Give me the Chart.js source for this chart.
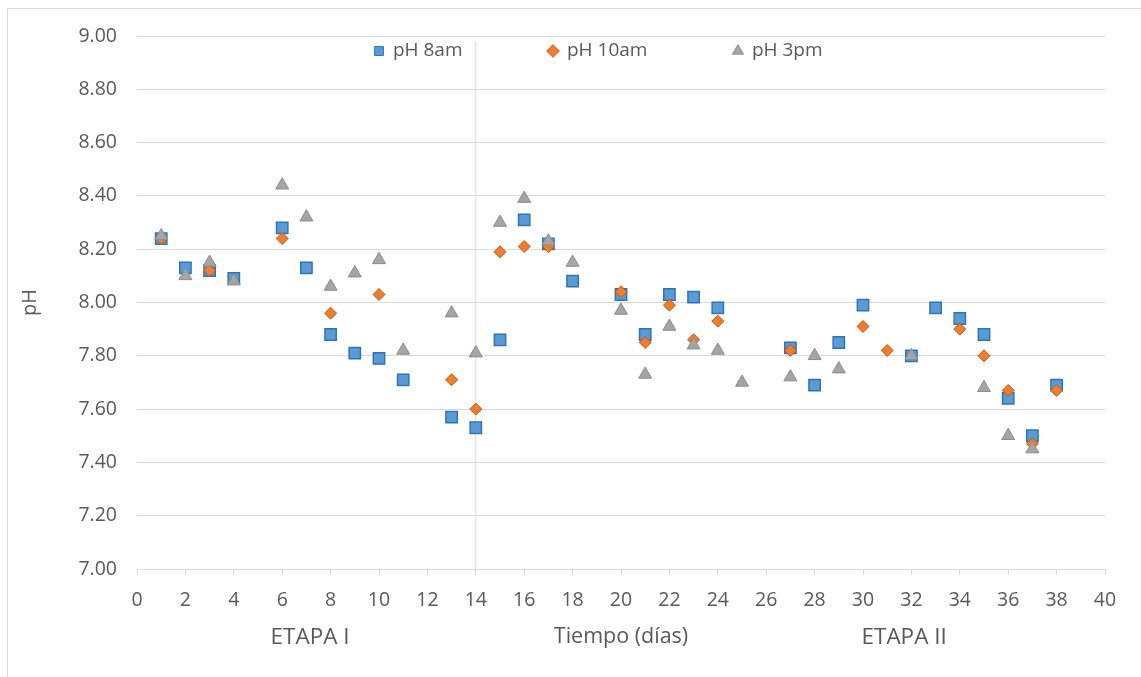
<!DOCTYPE html>
<html>
<head>
<meta charset="utf-8">
<script src="https://cdn.jsdelivr.net/npm/chart.js@4/dist/chart.umd.min.js"></script>
<style>
  body { margin: 0; background: #fff; }
  #wrap { position: relative; width: 1141px; height: 677px; overflow: hidden; }
  #frame { position: absolute; left: 7px; top: 8px; width: 1200px; height: 700px;
           border-top: 1px solid #d9d9d9; border-left: 1px solid #d9d9d9; }
  canvas { position: absolute; left: 0; top: 0; }
</style>
</head>
<body>
<div id="wrap">
  <div id="frame"></div>
  <canvas id="chart-area" width="1141" height="677"></canvas>
</div>
<script>
// days measured per series
var days8 = [1, 2, 3, 4, 6, 7, 8, 9, 10, 11, 13, 14, 15, 16, 17, 18, 20, 21, 22, 23, 24, 27, 28, 29, 30, 32, 33, 34, 35, 36, 37, 38];
var ph8am = [8.24, 8.13, 8.12, 8.09, 8.28, 8.13, 7.88, 7.81, 7.79, 7.71, 7.57, 7.53, 7.86, 8.31, 8.22, 8.08, 8.03, 7.88, 8.03, 8.02, 7.98, 7.83, 7.69, 7.85, 7.99, 7.80, 7.98, 7.94, 7.88, 7.64, 7.50, 7.69];

var days10 = [1, 3, 6, 8, 10, 13, 14, 15, 16, 17, 20, 21, 22, 23, 24, 27, 30, 31, 34, 35, 36, 37, 38];
var ph10am = [8.24, 8.12, 8.24, 7.96, 8.03, 7.71, 7.60, 8.19, 8.21, 8.21, 8.04, 7.85, 7.99, 7.86, 7.93, 7.82, 7.91, 7.82, 7.90, 7.80, 7.67, 7.47, 7.67];

var days3 = [1, 2, 3, 4, 6, 7, 8, 9, 10, 11, 13, 14, 15, 16, 17, 18, 20, 21, 22, 23, 24, 25, 27, 28, 29, 32, 35, 36, 37];
var ph3pm = [8.25, 8.10, 8.15, 8.08, 8.44, 8.32, 8.06, 8.11, 8.16, 7.82, 7.96, 7.81, 8.30, 8.39, 8.23, 8.15, 7.97, 7.73, 7.91, 7.84, 7.82, 7.70, 7.72, 7.80, 7.75, 7.80, 7.68, 7.50, 7.45];

// separator between stages
var sepDay = 14;
var sepPh = [7.00, 8.98];

var stageLabels = ['ETAPA I', 'ETAPA II'];
var stageDays = [7.15, 31.7];

var textColor = '#595959';
var gridColor = '#d9d9d9';
var fontFam = "'Open Sans', 'Liberation Sans', sans-serif";
var legendPad = 86;

function toPoints(xs, ys) {
    var pts = [];
    for (var i = 0; i < xs.length; i++) {
        pts.push({ x: xs[i], y: ys[i] });
    }
    return pts;
}

// draws ETAPA I / ETAPA II under the x axis
var stagePlugin = {
    id: 'stages',
    afterDraw: function (chart) {
        var ctx = chart.ctx;
        var xs = chart.scales.x;
        ctx.save();
        ctx.fillStyle = textColor;
        ctx.font = '22.5px ' + fontFam;
        ctx.textAlign = 'center';
        ctx.textBaseline = 'middle';
        for (var i = 0; i < stageLabels.length; i++) {
            ctx.fillText(stageLabels[i], xs.getPixelForValue(stageDays[i]), 638);
        }
        ctx.restore();
    }
};

// legend sits inside the plot area in the original
var moveLegend = {
    id: 'moveLegend',
    afterLayout: function (chart) {
        var l = chart.legend;
        var dy = 51 - (l.top + legendPad + 9.5);
        var dx = 37;
        l.top += dy;
        l.bottom = 80;
        l.height = l.bottom - l.top;
        l.left += dx; l.right += dx;
    }
};

var config = {
    type: 'scatter',
    data: {
        datasets: [{
            label: 'pH 8am',
            data: toPoints(days8, ph8am),
            order: 3,
            pointStyle: 'rect',
            pointRadius: 8,
            pointHoverRadius: 8,
            backgroundColor: '#5b9bd5',
            borderColor: '#2e75b6',
            borderWidth: 1.5
        }, {
            label: 'pH 10am',
            data: toPoints(days10, ph10am),
            order: 2,
            pointStyle: 'rectRot',
            pointRadius: 6,
            pointHoverRadius: 6,
            backgroundColor: '#ed7d31',
            borderColor: '#c55a11',
            borderWidth: 1
        }, {
            label: 'pH 3pm',
            data: toPoints(days3, ph3pm),
            order: 1,
            pointStyle: 'triangle',
            pointRadius: 7.5,
            pointHoverRadius: 7.5,
            backgroundColor: '#a5a5a5',
            borderColor: '#8c8c8c',
            borderWidth: 1
        }, {
            label: 'sep',
            data: toPoints([sepDay, sepDay], sepPh),
            order: 4,
            showLine: true,
            pointRadius: 0,
            borderColor: gridColor,
            borderWidth: 1
        }]
    },
    options: {
        responsive: false,
        animation: false,
        layout: { padding: { left: 18, right: 36, top: 0, bottom: 0 } },
        plugins: {
            tooltip: { enabled: false },
            legend: {
                position: 'top',
                maxHeight: 36,
                labels: {
                    usePointStyle: true,
                    boxWidth: 9,
                    boxHeight: 9,
                    padding: legendPad,
                    color: textColor,
                    font: { family: fontFam, size: 19 },
                    filter: function (item) { return item.text !== 'sep'; },
                    sort: function (a, b) { return a.datasetIndex - b.datasetIndex; },
                    generateLabels: function (chart) {
                        var items = Chart.defaults.plugins.legend.labels.generateLabels(chart);
                        items.forEach(function (it) { it.lineWidth = 1; });
                        return items;
                    }
                }
            }
        },
        scales: {
            x: {
                type: 'linear',
                min: 0,
                max: 40,
                ticks: {
                    stepSize: 2,
                    color: textColor,
                    padding: 14,
                    font: { family: fontFam, size: 19.5 }
                },
                grid: {
                    drawOnChartArea: false,
                    drawTicks: true,
                    tickLength: 6,
                    color: gridColor
                },
                border: { display: true, color: gridColor },
                title: {
                    display: true,
                    text: 'Tiempo (días)',
                    color: textColor,
                    font: { family: fontFam, size: 21.5 },
                    padding: { top: 0, bottom: 27 }
                },
                afterFit: function (scale) { scale.height = 108; }
            },
            y: {
                min: 7,
                max: 9,
                ticks: {
                    stepSize: 0.2,
                    color: textColor,
                    padding: 20,
                    font: { family: fontFam, size: 19.5 },
                    callback: function (v) { return v.toFixed(2); }
                },
                grid: { color: gridColor, drawTicks: false },
                border: { display: false },
                title: {
                    display: true,
                    text: 'pH',
                    color: textColor,
                    font: { family: fontFam, size: 20 },
                    padding: 0
                },
                afterFit: function (scale) { scale.width = 119; }
            }
        }
    },
    plugins: [stagePlugin, moveLegend]
};

var ctx = document.getElementById('chart-area').getContext('2d');
var myChart = new Chart(ctx, config);
</script>
</body>
</html>
